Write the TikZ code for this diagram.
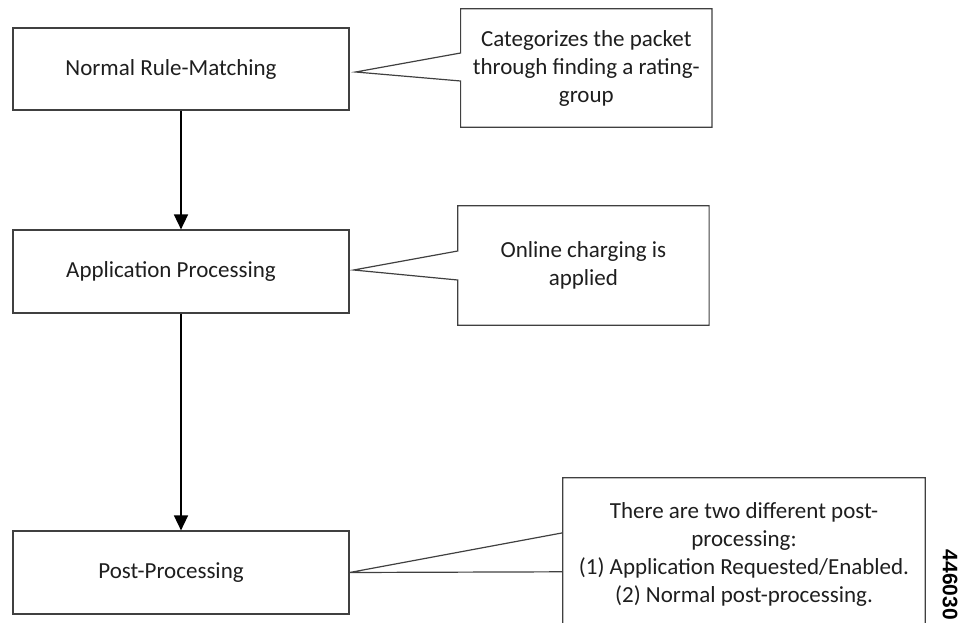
\documentclass[tikz,border=0pt]{standalone}
\usepackage{fontspec}
\setmainfont{Carlito}
\newfontfamily\numfont{Liberation Sans}
\usetikzlibrary{arrows.meta,calc}
\definecolor{edgegray}{HTML}{404040}
\definecolor{txt}{HTML}{1E1E1E}
\tikzset{
  stepbox/.style={draw=edgegray,line width=1.2pt,minimum width=336pt,minimum height=82pt,inner sep=0pt},
  boxtext/.style={font=\fontsize{23}{28}\selectfont,text=txt,inner sep=0pt},
  notetext/.style={font=\fontsize{23}{28}\selectfont,text=txt,align=center,inner sep=0pt},
  noteline/.style={draw=edgegray,line width=1.2pt,line join=miter},
  flow/.style={draw=black,line width=1.6pt,-{Triangle[length=15pt,width=14pt]}}
}
\begin{document}
\begin{tikzpicture}[x=1pt,y=-1pt]
\useasboundingbox (0,0) rectangle (961,623);
\clip (0,0) rectangle (961,623);
% boxes
\node[stepbox] (b1) at (181,69) {};
\node[stepbox,minimum height=83pt] (b2) at (181,271.5) {};
\node[stepbox,minimum height=83pt] (b3) at (181,572.5) {};
\node[boxtext] (t1) at ([xshift=-10pt]b1.center) {Normal Rule-Matching};
\node[boxtext] (t2) at ([xshift=-10pt]b2.center) {Application Processing};
\node[boxtext] (t3) at ([xshift=-10pt]b3.center) {Post-Processing};
% arrows
\draw[flow] (b1.south) -- (b2.north);
\draw[flow] (b2.south) -- (b3.north);
% callout 1
\node[minimum width=251pt,minimum height=118pt,inner sep=0pt] (c1) at (586.3,68) {};
\node[notetext] (n1) at (c1.center) {Categorizes the packet\\through finding a rating-\\group};
\coordinate (p1) at ($(b1.east)+(6,3)$);
\draw[noteline] (c1.north west) -- (c1.north east) -- (c1.south east) -- (c1.south west)
  -- ($(c1.west)+(0,13)$) -- (p1) -- ($(c1.west)+(0,-15)$) -- cycle;
% callout 2
\node[minimum width=251pt,minimum height=119pt,inner sep=0pt] (c2) at (583.4,265.5) {};
\node[notetext] (n2) at (c2.center) {Online charging is\\applied};
\coordinate (p2) at ($(b2.east)+(4,-1.5)$);
\draw[noteline] (c2.north west) -- (c2.north east) -- (c2.south east) -- (c2.south west)
  -- ($(c2.west)+(0,14.5)$) -- (p2) -- ($(c2.west)+(0,-14.5)$) -- cycle;
% callout 3 (runs off the bottom edge)
\node[minimum width=362pt,minimum height=170pt,inner sep=0pt] (c3) at (744,563) {};
\node[notetext] (n3) at (744,554) {There are two different post-\\processing:\\(1) Application Requested/Enabled.\\(2) Normal post-processing.};
\coordinate (p3) at (b3.east);
\draw[noteline] (c3.south west) -- ($(c3.north west)+(0,55)$) -- (p3) -- ($(c3.north west)+(0,94)$)
  -- (c3.north west) -- (c3.north east) -- (c3.south east);
% figure number
\node[font=\numfont\bfseries\fontsize{21}{21}\selectfont,rotate=-90,inner sep=0pt] (fig) at (950,585) {446030};
\end{tikzpicture}
\end{document}
